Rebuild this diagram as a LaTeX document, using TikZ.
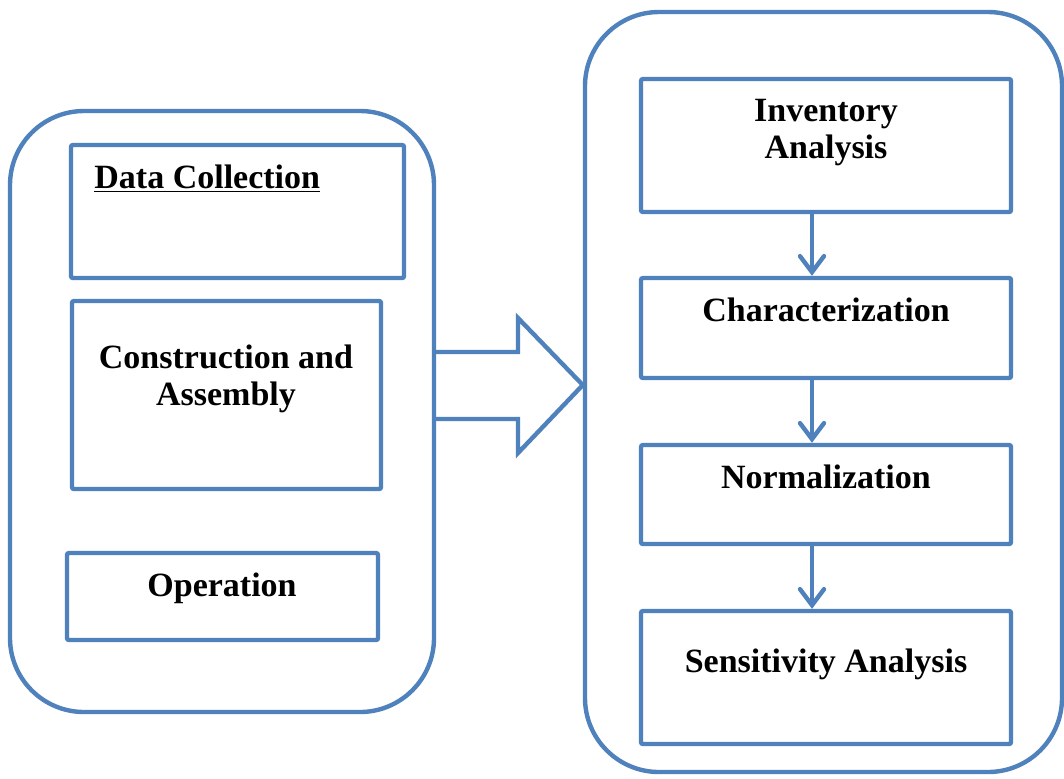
\documentclass[tikz,border=0pt]{standalone}
\usepackage{fontspec}
\setmainfont{Liberation Serif}
\usepackage{xcolor}
\usetikzlibrary{fit,arrows.meta}
\definecolor{boxblue}{HTML}{4F81BD}
\tikzset{
    outer-box/.style = {draw=boxblue, line width=2.2pt, rectangle, rounded corners=37pt, inner sep=0pt},
    step-box/.style = {draw=boxblue, line width=2.2pt, rectangle, rounded corners=1pt, inner sep=0pt},
    step-text/.style = {font=\fontsize{17}{18.5}\selectfont\bfseries, align=center, inner sep=0pt, anchor=base},
    flow-arrow/.style = {draw=boxblue, line width=2.2pt, line cap=round, -{Straight Barb[length=8pt, width=12pt, line cap=round]}},
}

\begin{document}
\begin{tikzpicture}[x=0.5pt, y=-0.5pt]
\useasboundingbox (0,0) rectangle (1064,778);

% left group: data
\node[outer-box, fit={(10,111) (434,712)}] (left) {};
\node[step-box, fit={(71,145) (404,278)}] (data) {};
\node[step-box, fit={(72,301) (381,489)}] (cons) {};
\node[step-box, fit={(67,553) (378,640)}] (oper) {};
\node[step-text, anchor=base west] (datatxt) at (94,188) {\underline{Data Collection}};
\node[step-text] (constxt) at (226,405) {Construction and\\Assembly};
\node[step-text] (opertxt) at (222,596) {Operation};

% right group: impact assessment
\node[outer-box, fit={(585,12) (1062,772)}] (right) {};
\node[step-box, fit={(641,79) (1011,212)}] (inv) {};
\node[step-box, fit={(641,278) (1011,378)}] (cha) {};
\node[step-box, fit={(641,445) (1011,544)}] (nor) {};
\node[step-box, fit={(641,611) (1011,744)}] (sen) {};
\node[step-text] (invtxt) at (826,158) {Inventory\\Analysis};
\node[step-text] (chatxt) at (826,321) {Characterization};
\node[step-text] (nortxt) at (826,488) {Normalization};
\node[step-text] (sentxt) at (826,672) {Sensitivity Analysis};

\coordinate (flowx) at (812,0);
\draw[flow-arrow] (inv.south -| flowx) -- (cha.north -| flowx);
\draw[flow-arrow] (cha.south -| flowx) -- (nor.north -| flowx);
\draw[flow-arrow] (nor.south -| flowx) -- (sen.north -| flowx);

% block arrow between the groups
\draw[draw=boxblue, line width=2.2pt, line join=miter]
    (left.east |- 0,352) -- (518,352) -- (518,318) -- (right.west |- 0,385)
    -- (518,453) -- (518,419) -- (left.east |- 0,419);
\end{tikzpicture}
\end{document}
